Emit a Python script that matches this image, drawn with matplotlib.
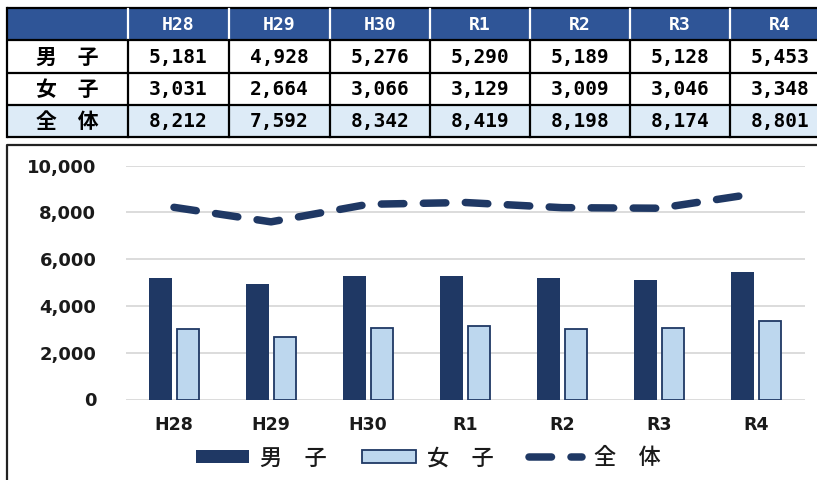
import matplotlib
matplotlib.use("Agg")
import matplotlib.pyplot as plt
import numpy as np
from matplotlib.patches import Rectangle
from matplotlib.ticker import FuncFormatter

years = ["H28", "H29", "H30", "R1", "R2", "R3", "R4"]
rowLabels = ["男　子", "女　子", "全　体"]
legendLabels = ["男　子", "女　子", "全　体"]
boys = [5181, 4928, 5276, 5290, 5189, 5128, 5453]
girls = [3031, 2664, 3066, 3129, 3009, 3046, 3348]
total = [8212, 7592, 8342, 8419, 8198, 8174, 8801]

DARK = "#1f3864"
LIGHT = "#bdd7ee"
HEAD = "#2f5597"
SHADE = "#ddebf7"
W, H = 817, 480

fig = plt.figure(figsize=(W / 100, H / 100), dpi=100)

# overlay in pixel coords for the table and the chart frame
ov = fig.add_axes([0, 0, 1, 1], zorder=0)
ov.set_xlim(0, W)
ov.set_ylim(H, 0)
ov.axis("off")

colEdges = [7, 128, 229, 330, 430, 530, 630, 730, 830]
rowEdges = [8, 40, 72.5, 105, 137]

ov.add_patch(Rectangle((7, rowEdges[0]), 830, rowEdges[1] - rowEdges[0], color=HEAD, lw=0))
ov.add_patch(Rectangle((7, rowEdges[3]), 830, rowEdges[4] - rowEdges[3], color=SHADE, lw=0))
for y in rowEdges:
    ov.plot([7, W], [y, y], color="black", lw=1.6, solid_capstyle="butt")
for i, x in enumerate(colEdges):
    if i == 0:
        ov.plot([x, x], [rowEdges[0], rowEdges[-1]], color="black", lw=1.6)
    else:
        ov.plot([x, x], [rowEdges[0] + 1, rowEdges[1] - 1], color="white", lw=1.6)
        ov.plot([x, x], [rowEdges[1], rowEdges[-1]], color="black", lw=1.6)

monoBold = dict(family="DejaVu Sans Mono", weight="bold", ha="center", va="center")
for j, yr in enumerate(years):
    cx = (colEdges[j + 1] + colEdges[j + 2]) / 2
    ov.text(cx, (rowEdges[0] + rowEdges[1]) / 2 + 1, yr, color="white", fontsize=13, **monoBold)
    for r, series in enumerate([boys, girls, total]):
        cy = (rowEdges[r + 1] + rowEdges[r + 2]) / 2 + 1
        ov.text(cx, cy, f"{series[j]:,}", color="black", fontsize=14, **monoBold)
for r, lab in enumerate(rowLabels):
    cy = (rowEdges[r + 1] + rowEdges[r + 2]) / 2 + 1
    ov.text(67, cy, lab, family=["Noto Sans CJK JP"], weight="bold",
            fontsize=15, ha="center", va="center")

# chart frame
ov.plot([7, 7, W], [H, 145, 145], color="#222222", lw=1.6)

# chart
ax = fig.add_axes([125.5 / W, 1 - 399.5 / H, 679 / W, 234 / H], zorder=1)
ax.patch.set_alpha(0)
x = np.arange(len(years))
bw = 0.235
b1 = ax.bar(x - 0.14, boys, bw, color=DARK, label=legendLabels[0], zorder=2)
b2 = ax.bar(x + 0.145, girls, bw, color=LIGHT, edgecolor=DARK, linewidth=1.3,
            label=legendLabels[1], zorder=2)
ln, = ax.plot(x, total, color=DARK, lw=5.4, dashes=(3, 2.6),
              dash_capstyle="round", label=legendLabels[2], zorder=3)

ax.set_xlim(-0.5, len(years) - 0.5)
ax.set_ylim(0, 10000)
ax.set_yticks(range(0, 10001, 2000))
ax.yaxis.set_major_formatter(FuncFormatter(lambda v, p: f"{v:,.0f}"))
ax.set_xticks(x)
ax.set_xticklabels(years)
ax.tick_params(axis="y", length=0, pad=21, labelsize=13, labelcolor="#1a1a1a")
ax.tick_params(axis="x", length=0, pad=12, labelsize=12.5, labelcolor="#1a1a1a")
for lab in ax.get_xticklabels() + ax.get_yticklabels():
    lab.set_fontweight("bold")
for s in ax.spines.values():
    s.set_visible(False)
ax.yaxis.grid(True, color="#d9d9d9", lw=1.3, zorder=0)
ax.set_axisbelow(True)

leg = fig.legend(handles=[b1, b2, ln], loc="center", bbox_to_anchor=(428 / W, 1 - 458 / H),
                 ncol=3, frameon=False,
                 prop={"family": ["Noto Sans CJK JP"], "size": 16, "weight": "medium"},
                 handlelength=2.4, handleheight=0.5, handletextpad=0.5, columnspacing=1.6)
for t in leg.get_texts():
    t.set_color("#1a1a1a")

fig.savefig("out.png", dpi=100)
